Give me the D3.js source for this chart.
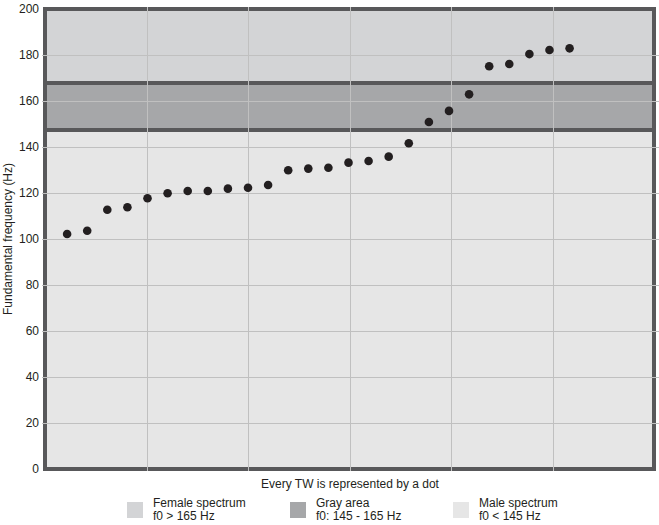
<!DOCTYPE html>
<html>
<head>
<meta charset="utf-8">
<script src="https://cdn.jsdelivr.net/npm/d3@7"></script>
<style>
  body { margin: 0; background: #fff; }
  text { font-family: "Liberation Sans", Arial, sans-serif; fill: #231f20; }
</style>
</head>
<body>
<svg id="chart"></svg>
<script>
// f0 of every TW, sorted (one dot each)
const f0Values = [102.2, 103.6, 112.7, 113.8, 117.7, 119.9, 120.9, 120.9, 121.9, 122.3,
  123.5, 129.9, 130.6, 131.0, 133.2, 133.9, 135.8, 141.6, 150.9, 155.7,
  162.9, 175.1, 176.1, 180.4, 182.2, 182.9];
const yTicks = [0, 20, 40, 60, 80, 100, 120, 140, 160, 180, 200];
// band edges as drawn in the chart
const bandEdges = [147.4, 167.8];
const bandNames = ['Female spectrum', 'Gray area', 'Male spectrum'];
const bandRanges = ['f0 > 165 Hz', 'f0: 145 - 165 Hz', 'f0 < 145 Hz'];
const bandColors = ['#d3d4d6', '#a6a7a9', '#e6e6e6'];

const width = 659, height = 525;
const margin = {top: 9, right: 5, bottom: 56, left: 45};
const plotW = width - margin.left - margin.right;
const plotH = height - margin.top - margin.bottom;
const frameColor = '#58585a';
const gridColor = '#c0c0c0';

const svg = d3.select('#chart')
    .attr('width', width)
    .attr('height', height);

const chart = svg.append('g')
    .attr('transform', `translate(${margin.left},${margin.top})`);

const y = d3.scaleLinear().domain([0, 200]).range([plotH, 0]);
// dots are spaced by index; grid splits the width into six
const x = d3.scaleLinear().domain([-0.1, 30.2]).range([0, plotW]);
const gridX = d3.scaleLinear().domain([0, 6]).range([0, plotW]);

// background bands
const bands = [
  {lo: bandEdges[1], hi: 200, color: bandColors[0]},
  {lo: bandEdges[0], hi: bandEdges[1], color: bandColors[1]},
  {lo: 0, hi: bandEdges[0], color: bandColors[2]}
];
chart.selectAll('.band')
  .data(bands)
  .join('rect')
    .attr('class', 'band')
    .attr('x', 0)
    .attr('width', plotW)
    .attr('y', d => y(d.hi))
    .attr('height', d => y(d.lo) - y(d.hi))
    .attr('fill', d => d.color);

// thick lines between bands
chart.selectAll('.band-edge')
  .data(bandEdges)
  .join('line')
    .attr('class', 'band-edge')
    .attr('x1', 0)
    .attr('x2', plotW)
    .attr('y1', d => y(d))
    .attr('y2', d => y(d))
    .attr('stroke', frameColor)
    .attr('stroke-width', 4);

// frame
chart.append('rect')
    .attr('width', plotW)
    .attr('height', plotH)
    .attr('fill', 'none')
    .attr('stroke', frameColor)
    .attr('stroke-width', 4);

// grid
chart.selectAll('.hgrid')
  .data(yTicks.filter(d => d > 0 && d < 200))
  .join('line')
    .attr('class', 'hgrid')
    .attr('x1', -3)
    .attr('x2', plotW + 5)
    .attr('y1', d => Math.round(y(d)) + 0.5)
    .attr('y2', d => Math.round(y(d)) + 0.5)
    .attr('stroke', gridColor);

chart.selectAll('.vgrid')
  .data(d3.range(1, 6))
  .join('line')
    .attr('class', 'vgrid')
    .attr('x1', d => Math.round(gridX(d)) + 0.5)
    .attr('x2', d => Math.round(gridX(d)) + 0.5)
    .attr('y1', -2)
    .attr('y2', plotH + 2)
    .attr('stroke', gridColor);

// y tick labels
chart.selectAll('.ytick')
  .data(yTicks)
  .join('text')
    .attr('class', 'ytick')
    .attr('x', -6)
    .attr('y', d => y(d))
    .attr('dy', '0.35em')
    .attr('text-anchor', 'end')
    .style('font-size', '12px')
    .text(d => d);

// dots
chart.selectAll('.dot')
  .data(f0Values)
  .join('circle')
    .attr('class', 'dot')
    .attr('cx', (d, i) => x(i + 1))
    .attr('cy', d => y(d))
    .attr('r', 4.3)
    .attr('fill', '#231f20');

// axis titles
svg.append('text')
    .attr('transform', `translate(12,${margin.top + plotH / 2}) rotate(-90)`)
    .attr('text-anchor', 'middle')
    .style('font-size', '12px')
    .text('Fundamental frequency (Hz)');

svg.append('text')
    .attr('x', 350)
    .attr('y', 488)
    .attr('text-anchor', 'middle')
    .style('font-size', '12px')
    .text('Every TW is represented by a dot');

// legend
const legend = svg.selectAll('.legend')
  .data(bandNames)
  .join('g')
    .attr('class', 'legend')
    .attr('transform', (d, i) => `translate(${127 + i * 163},502)`);

legend.append('rect')
    .attr('width', 16)
    .attr('height', 16)
    .attr('fill', (d, i) => bandColors[i]);

legend.append('text')
    .attr('x', 26)
    .attr('y', 5)
    .style('font-size', '12px')
    .text(d => d);

legend.append('text')
    .attr('x', 26)
    .attr('y', 17.5)
    .style('font-size', '12px')
    .text((d, i) => bandRanges[i]);
</script>
</body>
</html>
